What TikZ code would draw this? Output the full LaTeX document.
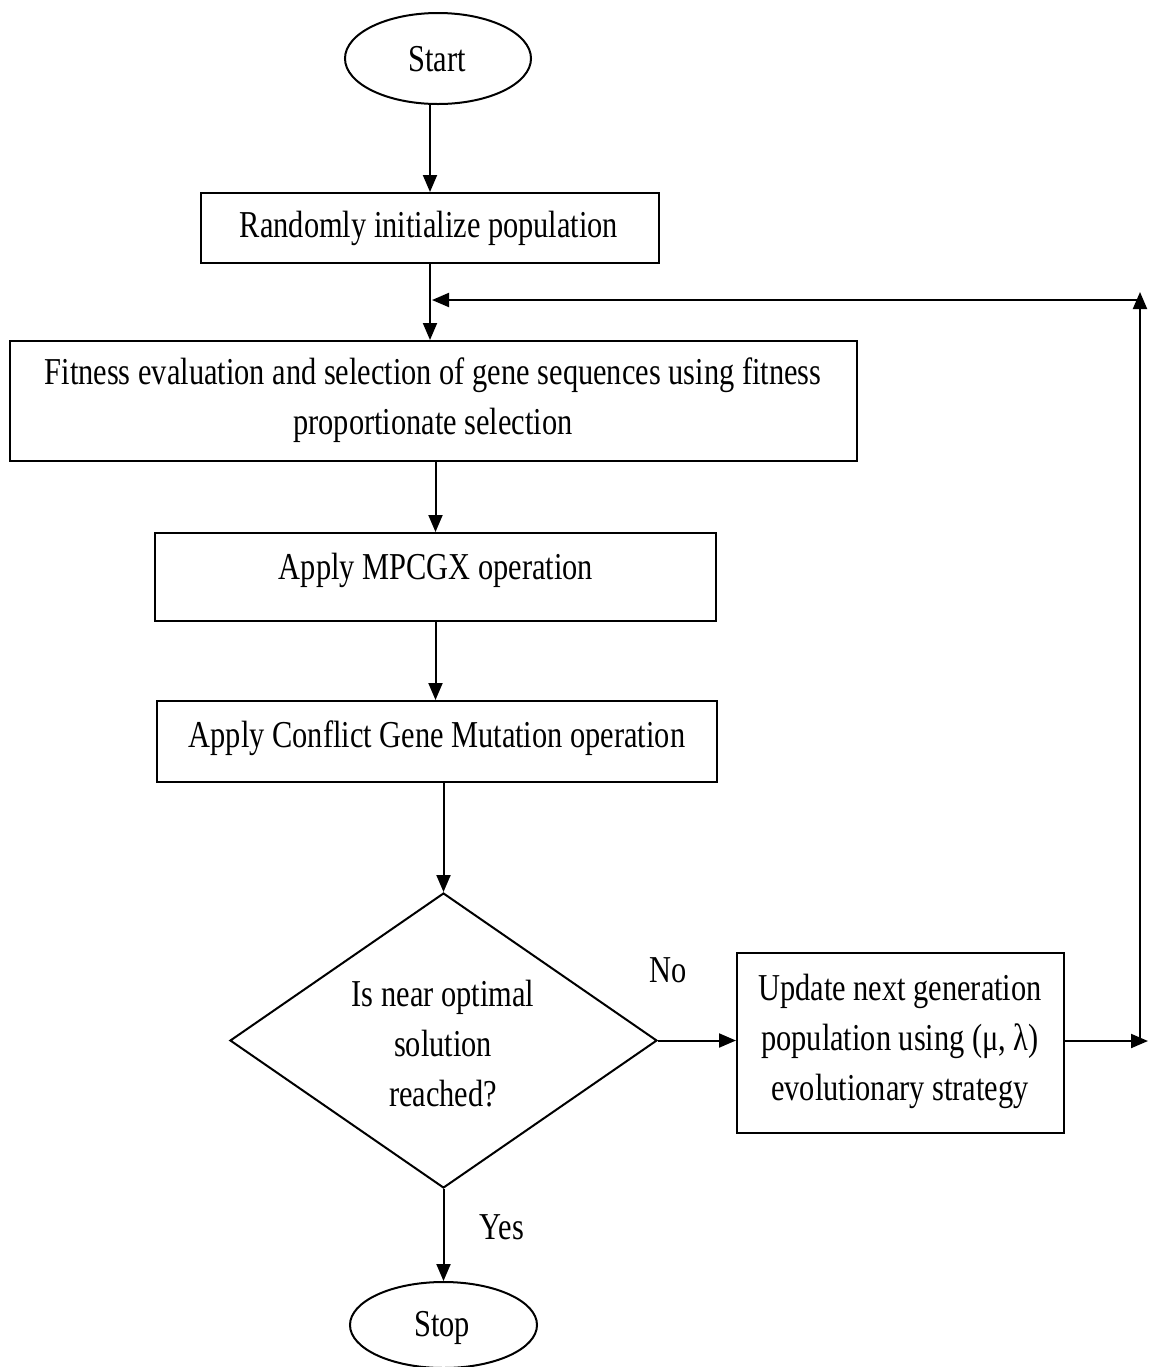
\documentclass[tikz,border=0pt]{standalone}
\usepackage{fontspec}
\setmainfont[FakeStretch=0.8]{Liberation Serif}
\usetikzlibrary{shapes.geometric,arrows.meta}
\begin{document}
\begin{tikzpicture}[x=0.5pt,y=-0.5pt,
  every node/.style={font=\fontsize{19}{25}\selectfont},
  boxnode/.style={draw,line width=1pt,rectangle,inner sep=0pt},
  term/.style={draw,line width=1pt,ellipse,inner sep=0pt},
  decision/.style={draw,line width=1pt,diamond,inner sep=0pt},
  txt/.style={align=center,inner sep=0pt},
  arr/.style={line width=1pt,-{Triangle[length=8.5pt,width=7pt]}},
  ln/.style={line width=1pt}]
\useasboundingbox (0,0) rectangle (1151,1367);
% nodes
\node[term,minimum width=93pt,minimum height=45.5pt] (start) at (438,58.5) {};
\node[txt] (startt) at (437,59) {Start};
\node[boxnode,minimum width=229pt,minimum height=35pt] (b1) at (430,228) {};
\node[txt] (b1t) at (429,228.5) {Randomly initialize population};
\node[boxnode,minimum width=423.5pt,minimum height=60pt] (b2) at (433.5,401) {};
\node[txt] (b2t) at (433,400) {Fitness evaluation and selection of gene sequences using fitness\\proportionate selection};
\node[boxnode,minimum width=280.5pt,minimum height=44pt] (b3) at (435.5,577) {};
\node[txt] (b3t) at (436,570.5) {Apply MPCGX operation};
\node[boxnode,minimum width=280pt,minimum height=40.5pt] (b4) at (437,741.5) {};
\node[txt] (b4t) at (437,738.5) {Apply Conflict Gene Mutation operation};
\node[decision,minimum width=213.5pt,minimum height=147.5pt] (dec) at (443.5,1040.5) {};
\node[txt] (dect) at (443,1044) {Is near optimal\\solution\\reached?};
\node[boxnode,minimum width=163.5pt,minimum height=90pt] (b5) at (900.5,1043) {};
\node[txt] (b5t) at (900,1041) {Update next generation\\population using (μ, λ)\\evolutionary strategy};
\node[term,minimum width=93.5pt,minimum height=43pt] (stop) at (443.5,1325) {};
\node[txt] (stopt) at (442,1327.5) {Stop};
\node[txt] (no) at (668,970) {No};
\node[txt] (yes) at (502,1227) {Yes};
% coordinates for loop
\coordinate (r1) at (1148,1041);
\coordinate (r2) at (1140,1041);
\coordinate (r3) at (1140,292);
\coordinate (r4) at (1140,300);
\coordinate (r5) at (432,300);
% connectors
\draw[arr] (start.south -| b1.north) -- (b1.north);
\draw[arr] (b1.south) -- (b2.north -| b1.south);
\draw[arr] (b2.south -| b3.north) -- (b3.north);
\draw[arr] (b3.south) -- (b4.north -| b3.south);
\draw[arr] (b4.south -| dec.north) -- (dec.north);
\draw[arr] (dec.east) -- (b5.west |- dec.east);
\draw[arr] (dec.south) -- (stop.north -| dec.south);
\draw[arr] (b5.east |- r1) -- (r1);
\draw[arr] (r2) -- (r3);
\draw[arr] (r4) -- (r5);
\end{tikzpicture}
\end{document}
